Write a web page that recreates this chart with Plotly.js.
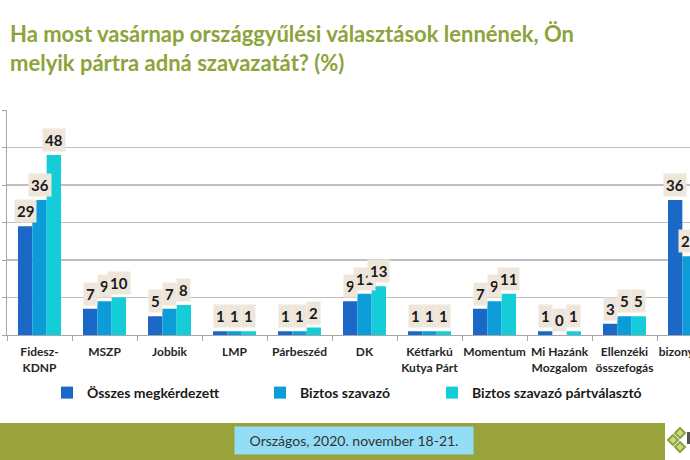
<!DOCTYPE html>
<html>
<head>
<meta charset="utf-8">
<script src="https://cdn.plot.ly/plotly-3.0.1.min.js"></script>
<style>html,body{margin:0;padding:0;overflow:hidden;background:#fff;}</style>
</head>
<body>
<div id="chart" style="width:690px;height:460px;"></div>
<script>
const categories = ['Fidesz-<br>KDNP','MSZP','Jobbik','LMP','Párbeszéd','DK','Kétfarkú<br>Kutya Párt','Momentum','Mi Hazánk<br>Mozgalom','Ellenzéki<br>összefogás','bizonytalan'];
const seriesNames = ['Összes megkérdezett','Biztos szavazó','Biztos szavazó pártválasztó'];
const osszes = [29,7,5,1,1,9,1,7,1,3,36];
const biztos = [36,9,7,1,1,11,1,9,0,5,21];
const partvalaszto = [48,10,8,1,2,13,1,11,1,5,null];
const titleText = 'Ha most vasárnap országgyűlési választások lennének, Ön<br>melyik pártra adná szavazatát? (%)';
const footerText = 'Országos, 2020. november 18-21.';

const colors = ['#1C68C6','#0C9CD8','#14CDD9'];
const FONT = 'Lato, "Open Sans", sans-serif';

// plot area in pixels
const L = 7, R = 690, T = 110, B = 335;
const px = x => (x - L) / (R - L);
const py = y => (B - y) / (B - T);

const allSeries = [osszes, biztos, partvalaszto];
const traces = allSeries.map((vals, s) => ({
  type: 'bar', x: categories, y: vals, name: seriesNames[s],
  marker: {color: colors[s]}, legend: s === 0 ? 'legend' : (s === 1 ? 'legend2' : 'legend3'),
  hoverinfo: 'x+y+name'
}));

const annotations = [];
allSeries.forEach((vals, s) => {
  vals.forEach((v, i) => {
    if (v === null || v === undefined) return;
    annotations.push({
      x: categories[i], y: v, xref: 'x', yref: 'y',
      text: String(v), showarrow: false,
      xanchor: 'center', yanchor: 'bottom',
      xshift: (s - 1) * 14.4, yshift: 3,
      bgcolor: '#EEE6DA', borderpad: 2,
      font: {family: FONT, size: 15, color: '#1a1a1a', weight: 'bold'}
    });
  });
});

// footer text box
annotations.push({
  xref: 'paper', yref: 'paper', x: px(354), y: py(440.5),
  xanchor: 'center', yanchor: 'middle', showarrow: false,
  text: footerText, width: 238, height: 27, borderpad: 0,
  bgcolor: '#93DEF6', font: {family: FONT, size: 14, color: '#333333'}
});

function diamond(cx, cy, r) {
  return `M${px(cx)},${py(cy - r)} L${px(cx + r)},${py(cy)} L${px(cx)},${py(cy + r)} L${px(cx - r)},${py(cy)} Z`;
}

const shapes = [
  {type: 'rect', xref: 'paper', yref: 'paper', x0: px(0), x1: px(665), y0: py(423), y1: py(462),
   fillcolor: '#98A33C', line: {width: 0}, layer: 'below'},
  {type: 'path', xref: 'paper', yref: 'paper', path: diamond(673, 440, 5), fillcolor: '#C9D98A', line: {color: '#8AA53A', width: 2}},
  {type: 'path', xref: 'paper', yref: 'paper', path: diamond(680, 433, 5), fillcolor: '#C9D98A', line: {color: '#8AA53A', width: 2}},
  {type: 'path', xref: 'paper', yref: 'paper', path: diamond(680, 447, 5), fillcolor: '#C9D98A', line: {color: '#8AA53A', width: 2}},
  {type: 'rect', xref: 'paper', yref: 'paper', x0: px(687), x1: px(690), y0: py(444), y1: py(432),
   fillcolor: '#555555', line: {width: 0}}
];

const legendBase = {
  xref: 'container', yref: 'container', orientation: 'h',
  xanchor: 'left', yanchor: 'middle', y: 1 - 393/460,
  bgcolor: 'rgba(0,0,0,0)',
  font: {family: FONT, size: 14, color: '#1a1a1a', weight: 'bold'}
};

const layout = {
  width: 690, height: 460,
  margin: {l: L, r: 690 - R, t: T, b: 460 - B, pad: 0},
  paper_bgcolor: '#ffffff', plot_bgcolor: '#ffffff',
  title: {
    text: titleText, xref: 'container', yref: 'container',
    x: 10/690, xanchor: 'left', y: 1 - 42/460, yanchor: 'top',
    font: {family: FONT, size: 22, color: '#8CA43B', weight: 'bold'}
  },
  barmode: 'group', bargap: 0.338, bargroupgap: 0,
  xaxis: {
    type: 'category', range: [-0.5, (R - L) / 65 - 0.5],
    showline: true, linecolor: '#A6A6A6', linewidth: 1,
    ticks: 'outside', tickson: 'boundaries', ticklen: 5, tickcolor: '#A6A6A6',
    tickangle: 0, automargin: false, ticklabelstandoff: 6,
    tickfont: {family: FONT, size: 12, color: '#262626', weight: 'bold'},
    showgrid: false, fixedrange: true
  },
  yaxis: {
    range: [0, 60], dtick: 10, showticklabels: false,
    showline: true, linecolor: '#A6A6A6', linewidth: 1,
    ticks: 'outside', ticklen: 4, tickcolor: '#A6A6A6',
    showgrid: true, gridcolor: '#BFBFBF', gridwidth: 1.3, zeroline: false, fixedrange: true
  },
  showlegend: true,
  legend: Object.assign({}, legendBase, {x: 47/690}),
  legend2: Object.assign({}, legendBase, {x: 260/690}),
  legend3: Object.assign({}, legendBase, {x: 432/690}),
  annotations: annotations,
  shapes: shapes
};

Plotly.newPlot('chart', traces, layout, {displayModeBar: false, staticPlot: true});
</script>
</body>
</html>
